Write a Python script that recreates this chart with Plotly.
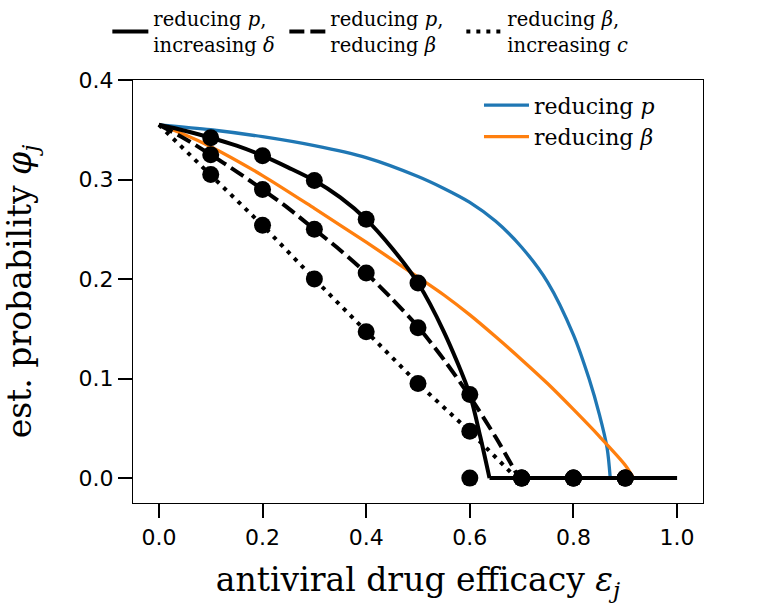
import plotly.graph_objects as go

# ---- data ----
# theory curves (curved part, then flat part at zero)
solid_x = [0, 0.05, 0.1, 0.15, 0.2, 0.25, 0.3, 0.35, 0.4, 0.45, 0.5, 0.55, 0.6, 0.62, 0.638]
solid_y = [0.355, 0.349, 0.342, 0.334, 0.324, 0.312, 0.299, 0.282, 0.260, 0.231, 0.196, 0.147, 0.084, 0.042, 0.0]
solid_flat_x = [0.638, 1.0]
solid_flat_y = [0.0, 0.0]

dashed_x = [0, 0.05, 0.1, 0.15, 0.2, 0.25, 0.3, 0.35, 0.4, 0.45, 0.5, 0.55, 0.6, 0.65, 0.695]
dashed_y = [0.355, 0.341, 0.325, 0.308, 0.290, 0.271, 0.250, 0.229, 0.206, 0.180, 0.152, 0.119, 0.082, 0.041, 0.0]

dotted_x = [0, 0.1, 0.2, 0.3, 0.4, 0.5, 0.6, 0.69]
dotted_y = [0.355, 0.305, 0.254, 0.200, 0.147, 0.095, 0.047, 0.0]

blue_x = [0, 0.1, 0.2, 0.3, 0.4, 0.5, 0.55, 0.6, 0.65, 0.7, 0.75, 0.8, 0.83, 0.85, 0.865, 0.871]
blue_y = [0.355, 0.350, 0.343, 0.334, 0.322, 0.303, 0.291, 0.277, 0.258, 0.232, 0.197, 0.144, 0.100, 0.064, 0.030, 0.0]

orange_x = [0, 0.05, 0.1, 0.2, 0.3, 0.4, 0.5, 0.55, 0.6, 0.65, 0.7, 0.75, 0.8, 0.85, 0.9, 0.916]
orange_y = [0.355, 0.345, 0.333, 0.304, 0.271, 0.237, 0.202, 0.184, 0.164, 0.142, 0.119, 0.095, 0.069, 0.042, 0.013, 0.0]

# simulation points
pts_x = [0.1, 0.2, 0.3, 0.4, 0.5, 0.6, 0.7, 0.8, 0.9]
solid_pts = [0.342, 0.324, 0.299, 0.260, 0.196, 0.084, 0.0, 0.0, 0.0]
dashed_pts = [0.325, 0.290, 0.250, 0.206, 0.151, 0.0, 0.0, 0.0, 0.0]
dotted_pts = [0.305, 0.254, 0.200, 0.147, 0.095, 0.047, 0.0, 0.0, 0.0]

x_ticks = [0, 0.2, 0.4, 0.6, 0.8, 1.0]
y_ticks = [0, 0.1, 0.2, 0.3, 0.4]

names_top = [
    "reducing <i>p</i>,<br>increasing <i>δ</i>",
    "reducing <i>p</i>,<br>reducing <i>β</i>",
    "reducing <i>β</i>,<br>increasing <i>c</i>",
]
names_inner = ["reducing <i>p</i>", "reducing <i>β</i>"]

BLUE = "#1f77b4"
ORANGE = "#ff7f0e"
SERIF = "DejaVu Serif"
SANS = "DejaVu Sans"

fig = go.Figure()

fig.add_trace(go.Scatter(x=blue_x, y=blue_y, mode="lines", name=names_inner[0],
                         line=dict(color=BLUE, width=3.3, shape="spline", smoothing=0.8),
                         legend="legend2", legendrank=1))
fig.add_trace(go.Scatter(x=orange_x, y=orange_y, mode="lines", name=names_inner[1],
                         line=dict(color=ORANGE, width=3.3, shape="spline", smoothing=0.8),
                         legend="legend2", legendrank=2))

fig.add_trace(go.Scatter(x=dotted_x, y=dotted_y, mode="lines", name=names_top[2],
                         line=dict(color="black", width=4, dash="4px,6px"),
                         legend="legend", legendrank=3))
fig.add_trace(go.Scatter(x=dashed_x, y=dashed_y, mode="lines", name=names_top[1],
                         line=dict(color="black", width=4, dash="15px,6px", shape="spline", smoothing=0.8),
                         legend="legend", legendrank=2))
fig.add_trace(go.Scatter(x=solid_x, y=solid_y, mode="lines", name=names_top[0],
                         line=dict(color="black", width=4, shape="spline", smoothing=0.8),
                         legend="legend", legendrank=1))
fig.add_trace(go.Scatter(x=solid_flat_x, y=solid_flat_y, mode="lines", showlegend=False,
                         line=dict(color="black", width=4)))

for ys in (dotted_pts, dashed_pts, solid_pts):
    fig.add_trace(go.Scatter(x=pts_x, y=ys, mode="markers", showlegend=False,
                             marker=dict(color="black", size=17)))

axis_common = dict(
    showline=True, mirror=True, linecolor="black", linewidth=1.3,
    ticks="outside", ticklen=14, tickwidth=1.6, tickcolor="black",
    showgrid=False, zeroline=False,
    tickfont=dict(family=SANS, size=22, color="black"),
    tickformat=".1f",
)

fig.update_layout(
    width=759, height=603,
    margin=dict(l=133, r=56, t=80, b=100, autoexpand=False),
    plot_bgcolor="white", paper_bgcolor="white",
    xaxis=dict(range=[-0.05, 1.05], tickvals=x_ticks,
               title=dict(text="antiviral drug efficacy <i>ε</i><sub><i>j</i></sub>",
                          font=dict(family=SERIF, size=33, color="black"), standoff=19),
               **axis_common),
    yaxis=dict(range=[-0.025, 0.4], tickvals=y_ticks,
               title=dict(text="est. probability <i>φ</i><sub><i>j</i></sub>",
                          font=dict(family=SERIF, size=33, color="black"), standoff=37),
               **axis_common),
    legend=dict(orientation="h", x=-0.045, xanchor="left", y=1.19, yanchor="top",
                font=dict(family=SERIF, size=19.5, color="black"),
                bgcolor="rgba(0,0,0,0)", entrywidth=126, itemwidth=36),
    legend2=dict(x=0.607, xanchor="left", y=0.99, yanchor="top",
                 font=dict(family=SERIF, size=22, color="black"),
                 bgcolor="rgba(0,0,0,0)", itemwidth=45),
)

fig.write_html("out.html", post_script="document.body.style.margin='0px';",
               config={"displayModeBar": False})
